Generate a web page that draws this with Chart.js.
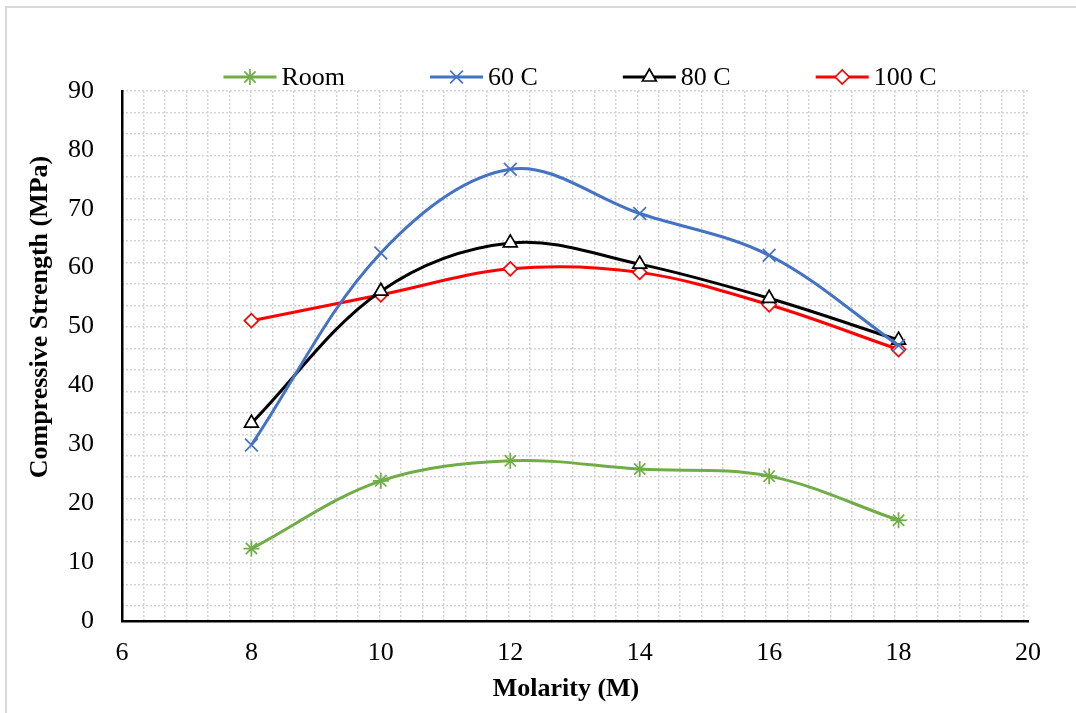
<!DOCTYPE html>
<html>
<head>
    <title>Compressive Strength vs Molarity</title>
    <script src="https://cdn.jsdelivr.net/npm/chart.js"></script>
    <style>
        body { margin: 0; overflow: hidden; background: #fff; }
        #wrap { position: relative; width: 1076px; height: 713px; }
        #frame { position: absolute; left: 5px; top: 6px; width: 1100px; height: 800px;
                 border: 2px solid #d9d9d9; pointer-events: none; }
    </style>
</head>
<body>
<div id="wrap">
    <canvas id="myChart" width="1076" height="713"></canvas>
    <div id="frame"></div>
</div>
<script>
    // data
    const molarity = [8, 10, 12, 14, 16, 18];
    const room = [12.3, 23.8, 27.2, 25.8, 24.6, 17.1];
    const c60 = [29.9, 62.5, 76.7, 69.2, 62.1, 46.8];
    const c80 = [33.6, 56.0, 64.2, 60.6, 54.8, 47.7];
    const c100 = [51.0, 55.4, 59.8, 59.2, 53.7, 46.1];
    const seriesNames = ['Room', '60 C', '80 C', '100 C'];
    const xTicks = [6, 8, 10, 12, 14, 16, 18, 20];
    const yTicks = [0, 10, 20, 30, 40, 50, 60, 70, 80, 90];
    const xTitle = 'Molarity (M)';
    const yTitle = 'Compressive Strength (MPa)';

    const serif = 'Liberation Serif, Times New Roman, serif';
    const fontSize = 26;

    function pts(vals) {
        return molarity.map((m, i) => ({x: m, y: vals[i]}));
    }

    function series(label, vals, color, style, radius, fill) {
        return {
            label: label,
            data: pts(vals),
            borderColor: color,
            backgroundColor: color,
            borderWidth: 3,
            tension: 0.35,
            pointStyle: style,
            pointRadius: radius,
            pointHoverRadius: radius,
            pointBorderColor: color,
            pointBackgroundColor: fill,
            pointBorderWidth: 1.7
        };
    }

    const datasets = [
        series(seriesNames[0], room, '#70AD47', 'star', 8, '#70AD47'),
        series(seriesNames[1], c60, '#4472C4', 'crossRot', 9, '#4472C4'),
        series(seriesNames[2], c80, '#000000', 'triangle', 8, '#ffffff'),
        series(seriesNames[3], c100, '#FF0000', 'rectRot', 7, '#ffffff')
    ];

    // legend (line + marker) and axis titles placed like the spreadsheet
    const extras = {
        id: 'extras',
        afterDraw(chart) {
            const ctx = chart.ctx;
            ctx.save();
            ctx.font = fontSize + 'px ' + serif;
            ctx.textBaseline = 'middle';
            ctx.textAlign = 'left';
            const lineLen = 53, gap = 5, spacing = 85, y = 77, center = 580;
            const widths = chart.data.datasets.map(d => lineLen + gap + ctx.measureText(d.label).width);
            const total = widths.reduce((a, b) => a + b, 0) + spacing * (widths.length - 1);
            let x = center - total / 2;
            chart.data.datasets.forEach((d, i) => {
                ctx.strokeStyle = d.borderColor;
                ctx.lineWidth = 3;
                ctx.beginPath();
                ctx.moveTo(x, y);
                ctx.lineTo(x + lineLen, y);
                ctx.stroke();
                ctx.fillStyle = d.pointBackgroundColor;
                ctx.strokeStyle = d.pointBorderColor;
                ctx.lineWidth = d.pointBorderWidth;
                if (Chart.helpers && Chart.helpers.drawPoint) {
                    Chart.helpers.drawPoint(ctx, {
                        pointStyle: d.pointStyle, radius: d.pointRadius,
                        borderWidth: d.pointBorderWidth, rotation: 0
                    }, x + lineLen / 2, y);
                }
                ctx.fillStyle = '#000';
                ctx.fillText(d.label, x + lineLen + gap, y + 1);
                x += widths[i] + spacing;
            });

            // axis titles
            ctx.font = 'bold ' + fontSize + 'px ' + serif;
            ctx.textAlign = 'center';
            ctx.fillStyle = '#000';
            ctx.fillText(xTitle, 566, 689);
            ctx.translate(40, 317);
            ctx.rotate(-Math.PI / 2);
            ctx.fillText(yTitle, 0, 0);
            ctx.restore();
        }
    };

    const gridAxis = (pos, max, reverse) => ({
        type: 'linear',
        position: pos,
        min: 0,
        max: max,
        reverse: reverse,
        ticks: { display: false, stepSize: 1, includeBounds: false },
        grid: { color: '#d4d4d4', lineWidth: 1.5, drawTicks: false },
        border: { display: false, dash: [2, 2] },
        afterFit(s) { if (pos === 'top') s.height = 0; else s.width = 0; }
    });

    const ctx = document.getElementById('myChart').getContext('2d');
    new Chart(ctx, {
        type: 'line',
        data: { datasets: datasets },
        options: {
            responsive: false,
            animation: false,
            layout: { padding: { top: 91, right: 48, left: 0, bottom: 0 } },
            plugins: {
                legend: { display: false },
                tooltip: { enabled: false }
            },
            scales: {
                x: {
                    type: 'linear',
                    position: 'bottom',
                    min: xTicks[0],
                    max: xTicks[xTicks.length - 1],
                    z: 1,
                    afterBuildTicks(s) { s.ticks = xTicks.map(v => ({value: v})); },
                    ticks: { color: '#000', font: { family: serif, size: fontSize }, padding: 9 },
                    grid: { display: false },
                    border: { color: '#000', width: 2.5 },
                    afterFit(s) { s.height = 92; }
                },
                y: {
                    type: 'linear',
                    position: 'left',
                    min: yTicks[0],
                    max: yTicks[yTicks.length - 1],
                    z: 1,
                    afterBuildTicks(s) { s.ticks = yTicks.map(v => ({value: v})); },
                    ticks: { color: '#000', font: { family: serif, size: fontSize }, padding: 20 },
                    grid: { display: false },
                    border: { color: '#000', width: 2.5 },
                    afterFit(s) { s.width = 122; }
                },
                xg: gridAxis('top', 42.2, false),
                yg: gridAxis('right', 24.7, true)
            }
        },
        plugins: [extras]
    });
</script>
</body>
</html>
